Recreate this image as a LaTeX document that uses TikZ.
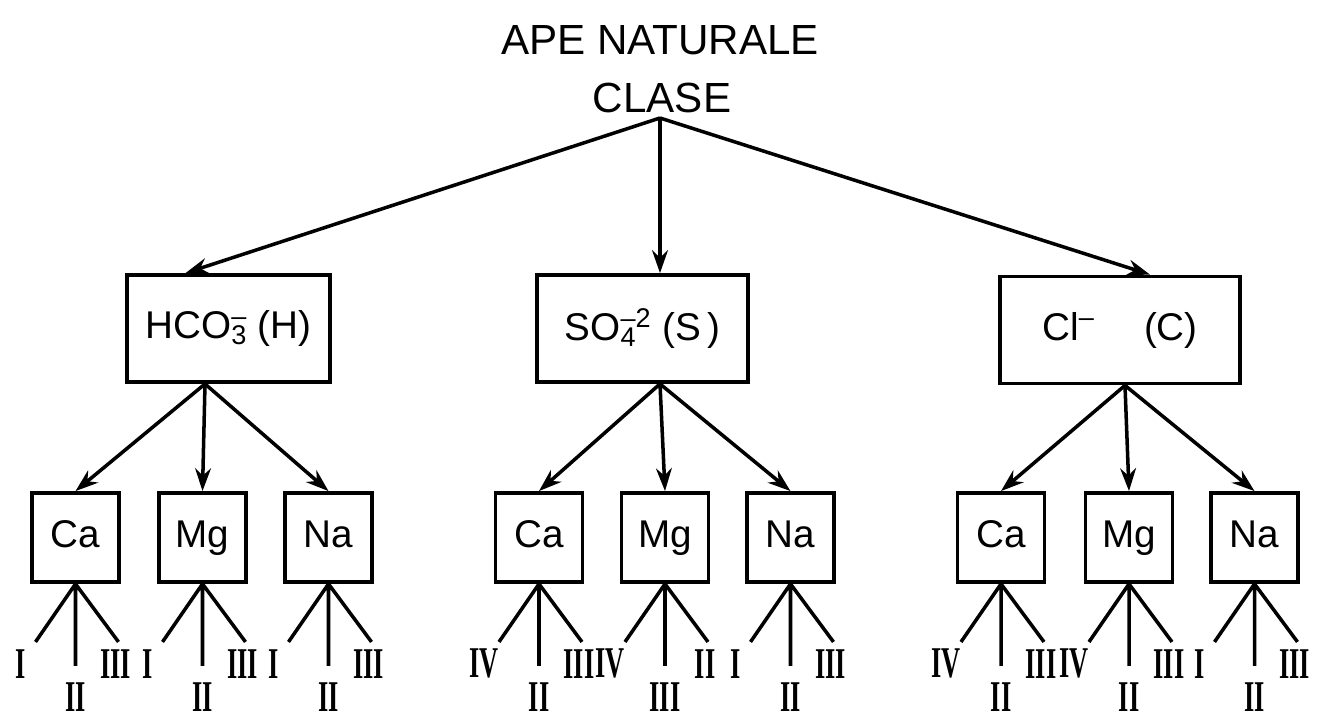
\documentclass[tikz,border=0pt]{standalone}
\usepackage{fontspec}
\setmainfont{Liberation Sans}
\newfontfamily\romfont{Liberation Serif}
\usetikzlibrary{arrows.meta,calc}

\newcommand\ion[2]{\rlap{\textsubscript{#1}}\textsuperscript{#2}}
\newcommand\rn[1]{\scalebox{0.6}[1]{#1}}

\tikzset{
  anion/.style={draw,line width=2.2pt,minimum height=2.14cm,inner sep=0pt},
  cation/.style={draw,line width=2.2pt,minimum width=1.74cm,minimum height=1.78cm,inner sep=0pt,
                 text height=16pt,text depth=5pt},
  rom/.style={font=\romfont\bfseries\fontsize{25}{27}\selectfont,inner sep=0pt},
}

\begin{document}
\begin{tikzpicture}[x=0.02cm,y=-0.02cm,>={Stealth[length=13pt,width=9pt]},line width=2pt,font=\fontsize{22}{26}\selectfont]
        \useasboundingbox (0,0) rectangle (1323,721);

        \node[font=\fontsize{24}{28}\selectfont] (ape) at (660,40) {APE NATURALE};
        \node[font=\fontsize{24}{28}\selectfont] (clase) at (662,98) {CLASE};
        \coordinate (top) at (660,118);

        \node[anion,minimum width=4.06cm] (h) at (228.5,328.5) {HCO\ion{3}{--} (H)};
        \node[anion,minimum width=4.22cm] (s) at (642.5,328.5) {SO\ion{4}{--2} (S\,)};
        \node[anion,minimum width=4.8cm] (c) at (1120,330) {Cl\textsuperscript{--}\quad\ (C)};

        \draw[->] (top) -- ([xshift=-0.86cm]h.north);
        \draw[->] (top) -- ([xshift=0.35cm]s.north);
        \draw[->] (top) -- ([xshift=0.6cm]c.north);

        \coordinate (hsrc) at ([xshift=-0.47cm]h.south);
        \coordinate (ssrc) at ([xshift=0.35cm]s.south);
        \coordinate (csrc) at ([xshift=0.1cm]c.south);

        \foreach \g/\x/\y/\z in {h/75.5/202.5/328.5, s/539/665/790.5, c/1001/1129/1254.5} {
            \node[cation] (\g ca) at (\x,537.5) {Ca};
            \node[cation] (\g mg) at (\y,537.5) {Mg};
            \node[cation] (\g na) at (\z,537.5) {Na};
            \draw[->] (\g src) -- (\g ca.north);
            \draw[->] (\g src) -- (\g mg.north);
            \draw[->] (\g src) -- (\g na.north);
        }

        \foreach \n/\l/\m/\r in {hca/I/II/III, hmg/I/II/III, hna/I/II/III,
                                 sca/IV/II/III, smg/IV/III/II, sna/I/II/III,
                                 cca/IV/II/III, cmg/IV/II/III, cna/I/II/III} {
            \coordinate (\n l) at ($(\n.south)+(-40,58)$);
            \coordinate (\n m) at ($(\n.south)+(0,82)$);
            \coordinate (\n r) at ($(\n.south)+(43,58)$);
            \draw (\n.south) -- (\n l) (\n.south) -- (\n m) (\n.south) -- (\n r);
            \node[rom] (\n-a) at ($(\n.south)+(-55,80)$) {\rn{\l}};
            \node[rom] (\n-b) at ($(\n.south)+(0,113)$) {\rn{\m}};
            \node[rom] (\n-c) at ($(\n.south)+(40,80)$) {\rn{\r}};
        }
    \end{tikzpicture}
\end{document}
